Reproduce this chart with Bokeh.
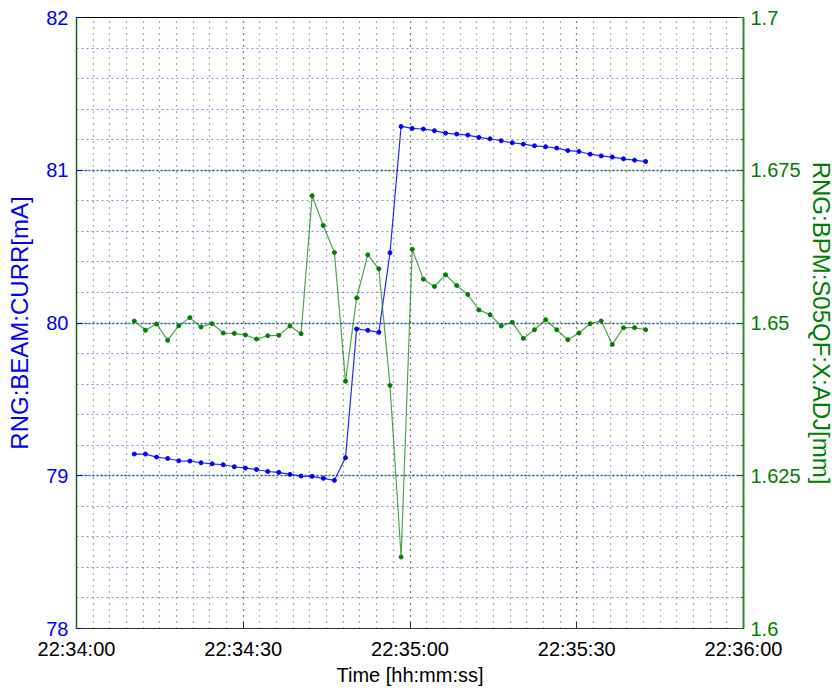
import numpy as np
import pandas as pd
from bokeh.plotting import figure
from bokeh.models import (Range1d, LinearAxis, SingleIntervalTicker, FixedTicker,
                          DatetimeTickFormatter, Grid, ColumnDataSource)
from bokeh.embed import file_html
from bokeh.resources import INLINE

# ---------------- data ----------------
start_time = "2010-01-01 22:34:00"
end_time = "2010-01-01 22:36:00"
# seconds after 22:34:00 of each sample
time_s = [10.4, 12.4, 14.4, 16.4, 18.4, 20.4, 22.4, 24.4, 26.4, 28.4,
          30.4, 32.4, 34.4, 36.4, 38.4, 40.4, 42.4, 44.4, 46.4, 48.4,
          50.4, 52.4, 54.4, 56.4, 58.4, 60.4, 62.4, 64.4, 66.4, 68.4,
          70.4, 72.4, 74.4, 76.4, 78.4, 80.4, 82.4, 84.4, 86.4, 88.4,
          90.4, 92.4, 94.4, 96.4, 98.4, 100.4, 102.4]
beam_curr = [79.142, 79.142, 79.122, 79.113, 79.098, 79.096, 79.085, 79.078, 79.072, 79.059,
             79.050, 79.041, 79.028, 79.022, 79.009, 78.998, 78.996, 78.983, 78.970, 79.118,
             79.961, 79.952, 79.939, 80.460, 81.287, 81.274, 81.270, 81.259, 81.243, 81.237,
             81.230, 81.215, 81.206, 81.193, 81.180, 81.171, 81.160, 81.154, 81.145, 81.129,
             81.123, 81.105, 81.094, 81.086, 81.075, 81.066, 81.057]
bpm_x = [1.65033, 1.64880, 1.64984, 1.64716, 1.64956, 1.65088, 1.64934, 1.64989, 1.64836, 1.64830,
         1.64803, 1.64737, 1.64792, 1.64798, 1.64951, 1.64825, 1.67084, 1.66597, 1.66154, 1.64048,
         1.65410, 1.66116, 1.65886, 1.63977, 1.61170, 1.66206, 1.65718, 1.65598, 1.65789, 1.65614,
         1.65466, 1.65214, 1.65137, 1.64951, 1.65011, 1.64748, 1.64890, 1.65055, 1.64890, 1.64726,
         1.64836, 1.64989, 1.65033, 1.64649, 1.64923, 1.64923, 1.64890]
left_range = (78, 82)
right_range = (1.6, 1.7)
right_ticks = [1.6, 1.625, 1.65, 1.675, 1.7]
right_tick_labels = ["1.6", "1.625", "1.65", "1.675", "1.7"]
left_label = "RNG:BEAM:CURR[mA]"
right_label = "RNG:BPM:S05QF:X:ADJ[mm]"
x_label = "Time [hh:mm:ss]"

# ---------------- build ----------------
t0 = pd.Timestamp(start_time)
times = t0 + pd.to_timedelta(time_s, unit="s")
src = ColumnDataSource(dict(t=times, cur=beam_curr, bpm=bpm_x))

BLUE = "#0000ff"
GREEN = "#008000"
FONT = "Liberation Sans"
TICK_FS = "20px"
LABEL_FS = "24px"

p = figure(width=840, height=688, x_axis_type="datetime", output_backend="svg",
           toolbar_location=None,
           x_range=Range1d(t0, pd.Timestamp(end_time)),
           y_range=Range1d(*left_range),
           min_border_left=76, min_border_right=97, min_border_top=17, min_border_bottom=59)
p.extra_y_ranges = {"right": Range1d(*right_range)}
p.background_fill_color = "white"
p.border_fill_color = "white"
p.outline_line_color = "black"
p.outline_line_width = 1

# x axis
xt = SingleIntervalTicker(interval=30000, num_minor_ticks=10)
xa = p.xaxis[0]
xa.ticker = xt
xa.formatter = DatetimeTickFormatter(seconds="%H:%M:%S", minsec="%H:%M:%S",
                                     minutes="%H:%M:%S", hourmin="%H:%M:%S",
                                     hours="%H:%M:%S", milliseconds="%H:%M:%S")
xa.axis_label = x_label
xa.axis_line_color = "#333333"
xa.major_tick_in = 6
xa.major_tick_out = 0
xa.major_tick_line_color = "#333333"
xa.minor_tick_line_color = None
xa.major_label_text_font = FONT
xa.major_label_text_font_size = TICK_FS
xa.major_label_text_color = "black"
xa.major_label_standoff = 5
xa.axis_label_text_font = FONT
xa.axis_label_text_font_size = "20px"
xa.axis_label_text_font_style = "normal"
xa.axis_label_text_color = "black"
xa.axis_label_standoff = 1

# left axis
ya = p.yaxis[0]
ya.ticker = SingleIntervalTicker(interval=1, num_minor_ticks=5)
ya.axis_label = left_label
ya.axis_line_color = "#146614"
ya.axis_line_width = 1.5
ya.major_tick_in = 6
ya.major_tick_out = 0
ya.major_tick_line_color = BLUE
ya.minor_tick_line_color = None
ya.major_label_text_font = FONT
ya.major_label_text_font_size = TICK_FS
ya.major_label_text_color = BLUE
ya.major_label_standoff = 4
ya.axis_label_text_font = FONT
ya.axis_label_text_font_size = LABEL_FS
ya.axis_label_text_font_style = "normal"
ya.axis_label_text_color = BLUE
ya.axis_label_standoff = 10

# right axis
minor_right = list(np.round(np.arange(1.6, 1.7001, 0.005), 4))
ra = LinearAxis(y_range_name="right",
                ticker=FixedTicker(ticks=right_ticks, minor_ticks=minor_right))
ra.major_label_overrides = {v: s for v, s in zip(right_ticks, right_tick_labels)}
ra.axis_label = right_label
ra.axis_line_color = "#2e8b2e"
ra.axis_line_width = 2
ra.major_tick_in = 6
ra.major_tick_out = 0
ra.minor_tick_in = 3
ra.minor_tick_out = 0
ra.major_tick_line_color = GREEN
ra.minor_tick_line_color = GREEN
ra.major_label_text_font = FONT
ra.major_label_text_font_size = TICK_FS
ra.major_label_text_color = GREEN
ra.major_label_standoff = 7
ra.axis_label_text_font = FONT
ra.axis_label_text_font_size = LABEL_FS
ra.axis_label_text_font_style = "normal"
ra.axis_label_text_color = GREEN
ra.axis_label_standoff = 4
p.add_layout(ra, "right")

# grids
p.xgrid.ticker = xt
p.xgrid.grid_line_color = "#555555"
p.xgrid.grid_line_dash = "1 5"
p.xgrid.grid_line_width = 1.2
p.xgrid.minor_grid_line_color = "#555555"
p.xgrid.minor_grid_line_dash = "1 5"
p.xgrid.minor_grid_line_width = 1.2

p.ygrid.ticker = ya.ticker
p.ygrid.grid_line_color = "#1f3fe0"
p.ygrid.grid_line_dash = "2 6"
p.ygrid.grid_line_width = 1.5
p.ygrid.minor_grid_line_color = "#7a93e8"
p.ygrid.minor_grid_line_dash = "2 3"
p.ygrid.minor_grid_line_width = 1.2

g2 = Grid(dimension=1, ticker=SingleIntervalTicker(interval=1), grid_line_color="#1a8a1a",
          grid_line_dash="2 6", grid_line_dash_offset=4, grid_line_width=1.5)
p.add_layout(g2)

# series
p.line("t", "cur", source=src, line_color=BLUE, line_width=1.2, line_alpha=0.85)
p.scatter("t", "cur", source=src, size=4, color=BLUE)
p.line("t", "bpm", source=src, y_range_name="right", line_color=GREEN, line_width=1.2,
       line_alpha=0.7)
p.scatter("t", "bpm", source=src, y_range_name="right", size=4, color=GREEN)

open("out.html", "w").write(file_html(p, INLINE))
